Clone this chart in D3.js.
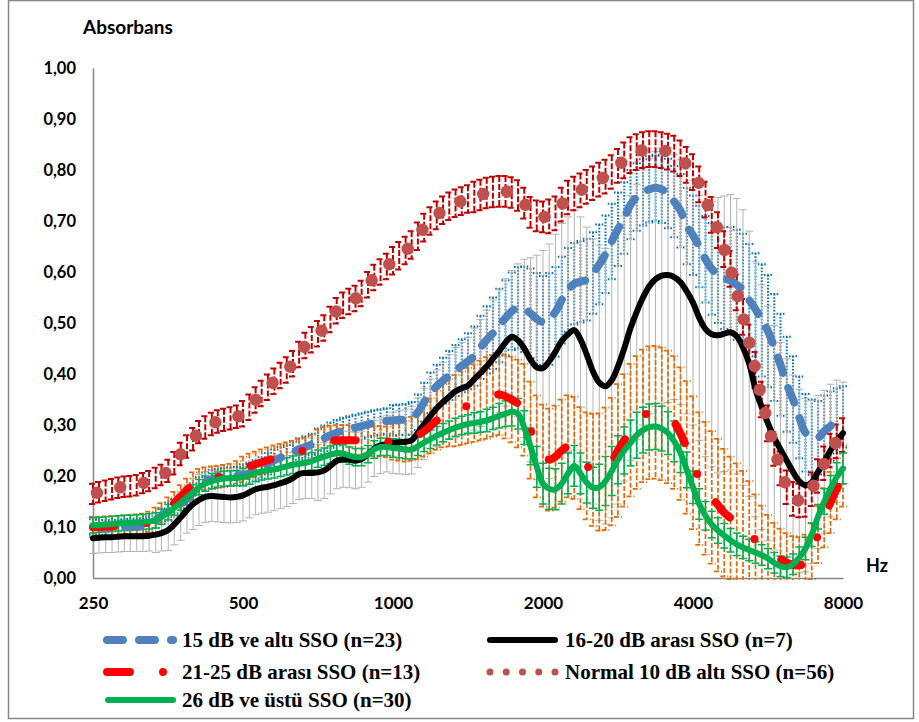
<!DOCTYPE html>
<html>
<head>
<meta charset="utf-8">
<script src="https://cdn.jsdelivr.net/npm/d3@7"></script>
<style>
  body { margin: 0; background: #fff; }
  svg { display: block; }
</style>
</head>
<body>
<svg id="chart" width="919" height="722"></svg>
<script>
// 1/24-octave analysis frequencies (Hz), 250 .. 8000
const freqs = [
  250,257,265,273,281,289,297,306,315,324,334,343,354,364,375,386,397,408,420,433,445,458,472,486,
  500,515,530,545,561,578,595,612,630,648,667,687,707,728,749,771,794,817,841,865,891,917,944,972,
  1000,1029,1060,1090,1122,1155,1189,1224,1260,1297,1335,1374,1414,1456,1498,1542,1587,1634,1682,1731,1782,1834,1888,1943,
  2000,2058,2119,2181,2245,2311,2378,2448,2520,2594,2670,2748,2828,2911,2997,3084,3175,3268,3364,3462,3564,3668,3776,3886,
  4000,4117,4238,4362,4490,4621,4757,4896,5040,5187,5339,5496,5657,5823,5993,6169,6350,6536,6727,6924,7127,7336,7551,7772,8000
];

// 15 dB ve altı SSO (n=23)
const blueMean = [
  0.100,0.099,0.098,0.098,0.099,0.100,0.101,0.101,0.102,0.106,0.113,0.122,0.130,0.137,0.145,0.155,0.168,0.180,0.189,0.194,0.196,0.198,0.199,0.200,
  0.202,0.205,0.210,0.216,0.224,0.231,0.236,0.240,0.246,0.253,0.257,0.262,0.268,0.274,0.280,0.285,0.289,0.292,0.295,0.298,0.301,0.304,0.306,0.308,
  0.309,0.310,0.311,0.313,0.325,0.345,0.363,0.376,0.387,0.397,0.407,0.416,0.425,0.435,0.452,0.467,0.480,0.495,0.510,0.523,0.530,0.527,0.519,0.508,
  0.502,0.508,0.522,0.545,0.565,0.577,0.581,0.585,0.598,0.615,0.635,0.660,0.684,0.706,0.732,0.747,0.756,0.762,0.765,0.762,0.754,0.738,0.720,0.690,
  0.672,0.650,0.625,0.606,0.595,0.588,0.583,0.575,0.565,0.545,0.527,0.505,0.484,0.452,0.418,0.380,0.350,0.315,0.285,0.276,0.275,0.288,0.298,0.308,0.316
];
const blueSd = [
  0.015,0.015,0.015,0.015,0.015,0.015,0.015,0.015,0.015,0.015,0.015,0.015,0.018,0.018,0.018,0.018,0.018,0.018,0.018,0.018,0.018,0.018,0.018,0.018,
  0.021,0.021,0.021,0.021,0.021,0.021,0.021,0.021,0.021,0.021,0.021,0.021,0.025,0.025,0.025,0.025,0.025,0.025,0.025,0.025,0.025,0.025,0.025,0.025,
  0.030,0.030,0.030,0.032,0.035,0.038,0.040,0.042,0.045,0.048,0.050,0.052,0.055,0.058,0.062,0.066,0.070,0.072,0.074,0.076,0.080,0.084,0.088,0.090,
  0.090,0.090,0.088,0.085,0.082,0.080,0.080,0.080,0.080,0.078,0.076,0.074,0.072,0.070,0.068,0.066,0.065,0.065,0.065,0.066,0.068,0.070,0.072,0.075,
  0.078,0.080,0.085,0.090,0.095,0.100,0.105,0.108,0.110,0.110,0.110,0.110,0.110,0.105,0.100,0.093,0.085,0.080,0.076,0.074,0.072,0.070,0.068,0.064,0.060
];

// 16-20 dB arası SSO (n=7)
const blackMean = [
  0.078,0.079,0.080,0.080,0.081,0.082,0.082,0.082,0.082,0.083,0.085,0.088,0.094,0.105,0.119,0.133,0.145,0.153,0.159,0.161,0.160,0.159,0.158,0.159,
  0.162,0.168,0.174,0.177,0.179,0.182,0.186,0.190,0.196,0.204,0.206,0.206,0.207,0.211,0.220,0.230,0.233,0.232,0.230,0.233,0.243,0.254,0.260,0.263,
  0.265,0.266,0.267,0.270,0.285,0.302,0.318,0.333,0.345,0.356,0.366,0.372,0.377,0.390,0.402,0.415,0.430,0.445,0.462,0.473,0.466,0.450,0.428,0.413,
  0.412,0.425,0.444,0.465,0.478,0.486,0.468,0.438,0.405,0.383,0.376,0.388,0.415,0.450,0.490,0.522,0.550,0.572,0.586,0.593,0.594,0.590,0.580,0.562,
  0.540,0.510,0.488,0.478,0.476,0.479,0.482,0.474,0.452,0.420,0.370,0.335,0.303,0.275,0.252,0.230,0.208,0.190,0.182,0.188,0.208,0.228,0.250,0.268,0.284
];
const blackSd = [
  0.030,0.030,0.030,0.030,0.030,0.030,0.030,0.030,0.030,0.030,0.035,0.035,0.040,0.040,0.045,0.045,0.050,0.050,0.050,0.050,0.050,0.050,0.050,0.050,
  0.050,0.050,0.050,0.050,0.050,0.050,0.050,0.050,0.050,0.050,0.050,0.050,0.055,0.055,0.055,0.055,0.055,0.055,0.055,0.055,0.055,0.055,0.055,0.055,
  0.060,0.062,0.064,0.066,0.068,0.070,0.072,0.075,0.078,0.082,0.086,0.090,0.095,0.100,0.105,0.110,0.115,0.120,0.125,0.130,0.150,0.175,0.200,0.220,
  0.230,0.230,0.230,0.230,0.230,0.235,0.240,0.250,0.260,0.270,0.270,0.270,0.270,0.260,0.260,0.250,0.250,0.250,0.250,0.250,0.250,0.240,0.240,0.240,
  0.240,0.240,0.250,0.260,0.270,0.270,0.270,0.270,0.270,0.260,0.250,0.240,0.230,0.220,0.210,0.200,0.190,0.180,0.170,0.160,0.150,0.140,0.130,0.120,0.100
];

// 21-25 dB arası SSO (n=13)
const redMean = [
  0.100,0.100,0.101,0.101,0.102,0.103,0.104,0.105,0.106,0.110,0.118,0.127,0.136,0.147,0.160,0.173,0.185,0.192,0.195,0.197,0.198,0.200,0.202,0.207,
  0.213,0.219,0.223,0.227,0.231,0.235,0.238,0.241,0.244,0.248,0.250,0.255,0.261,0.266,0.269,0.270,0.270,0.270,0.270,0.270,0.270,0.269,0.268,0.267,
  0.267,0.267,0.268,0.273,0.280,0.288,0.298,0.309,0.318,0.324,0.328,0.333,0.338,0.343,0.348,0.353,0.357,0.360,0.356,0.350,0.342,0.330,0.290,0.258,
  0.240,0.232,0.238,0.250,0.258,0.255,0.235,0.220,0.212,0.208,0.214,0.228,0.250,0.270,0.290,0.305,0.318,0.324,0.325,0.322,0.316,0.305,0.283,0.256,
  0.226,0.195,0.176,0.158,0.143,0.128,0.118,0.110,0.100,0.090,0.074,0.062,0.052,0.043,0.037,0.030,0.026,0.025,0.030,0.052,0.085,0.118,0.148,0.175,0.200
];
const redSd = [
  0.020,0.020,0.020,0.020,0.020,0.020,0.020,0.020,0.020,0.020,0.020,0.020,0.022,0.022,0.022,0.022,0.022,0.022,0.022,0.022,0.022,0.022,0.022,0.022,
  0.025,0.025,0.025,0.025,0.025,0.025,0.025,0.025,0.025,0.025,0.025,0.025,0.030,0.030,0.030,0.030,0.030,0.030,0.030,0.030,0.030,0.030,0.030,0.030,
  0.035,0.037,0.040,0.043,0.047,0.050,0.054,0.058,0.062,0.066,0.070,0.072,0.074,0.076,0.078,0.080,0.080,0.080,0.082,0.084,0.086,0.090,0.095,0.100,
  0.100,0.100,0.100,0.100,0.100,0.100,0.100,0.105,0.110,0.115,0.120,0.125,0.130,0.130,0.130,0.130,0.130,0.130,0.130,0.130,0.130,0.130,0.130,0.130,
  0.130,0.130,0.130,0.130,0.130,0.125,0.120,0.115,0.110,0.100,0.090,0.080,0.072,0.065,0.060,0.058,0.056,0.055,0.055,0.055,0.056,0.058,0.060,0.060,0.060
];

// Normal 10 dB altı SSO (n=56)
const normalMean = [
  0.165,0.168,0.171,0.174,0.177,0.179,0.180,0.182,0.186,0.190,0.196,0.202,0.210,0.225,0.243,0.258,0.272,0.286,0.295,0.302,0.307,0.310,0.313,0.316,
  0.322,0.335,0.349,0.362,0.374,0.386,0.397,0.408,0.420,0.438,0.456,0.467,0.479,0.490,0.507,0.524,0.535,0.542,0.548,0.558,0.575,0.589,0.600,0.611,
  0.622,0.632,0.642,0.653,0.670,0.687,0.700,0.711,0.721,0.729,0.735,0.739,0.743,0.747,0.751,0.755,0.757,0.758,0.758,0.756,0.750,0.735,0.717,0.710,
  0.708,0.709,0.715,0.732,0.746,0.754,0.760,0.767,0.774,0.781,0.787,0.796,0.808,0.819,0.829,0.835,0.839,0.841,0.841,0.839,0.836,0.832,0.823,0.810,
  0.796,0.772,0.742,0.712,0.682,0.645,0.606,0.560,0.512,0.462,0.408,0.350,0.303,0.253,0.215,0.178,0.155,0.152,0.153,0.174,0.200,0.225,0.250,0.268,0.280
];
const normalSd = [
  0.020,0.020,0.020,0.020,0.020,0.020,0.020,0.020,0.020,0.020,0.020,0.020,0.022,0.022,0.022,0.022,0.022,0.022,0.022,0.022,0.022,0.022,0.022,0.022,
  0.025,0.025,0.025,0.025,0.025,0.025,0.025,0.025,0.025,0.025,0.025,0.025,0.025,0.025,0.025,0.025,0.025,0.025,0.025,0.025,0.025,0.025,0.025,0.025,
  0.027,0.027,0.027,0.027,0.027,0.027,0.027,0.027,0.027,0.027,0.027,0.027,0.027,0.030,0.030,0.030,0.030,0.030,0.030,0.030,0.030,0.030,0.030,0.030,
  0.030,0.033,0.033,0.033,0.033,0.033,0.033,0.033,0.033,0.033,0.033,0.033,0.033,0.035,0.035,0.035,0.035,0.035,0.035,0.035,0.035,0.035,0.035,0.035,
  0.035,0.035,0.035,0.035,0.035,0.035,0.035,0.035,0.035,0.035,0.035,0.035,0.035,0.033,0.033,0.033,0.033,0.033,0.033,0.033,0.033,0.033,0.033,0.033,0.033
];

// 26 dB ve üstü SSO (n=30)
const greenMean = [
  0.103,0.104,0.105,0.106,0.107,0.108,0.108,0.109,0.110,0.111,0.113,0.120,0.129,0.138,0.148,0.158,0.168,0.178,0.185,0.190,0.193,0.195,0.196,0.196,
  0.198,0.201,0.206,0.209,0.211,0.213,0.216,0.219,0.222,0.224,0.226,0.229,0.234,0.238,0.242,0.245,0.244,0.240,0.237,0.237,0.243,0.252,0.257,0.257,
  0.255,0.254,0.252,0.252,0.258,0.266,0.272,0.279,0.285,0.290,0.295,0.299,0.302,0.304,0.306,0.309,0.313,0.318,0.322,0.326,0.322,0.295,0.258,0.218,
  0.185,0.175,0.174,0.185,0.205,0.220,0.205,0.187,0.177,0.178,0.190,0.210,0.232,0.250,0.265,0.280,0.290,0.296,0.297,0.293,0.284,0.268,0.245,0.212,
  0.178,0.145,0.122,0.105,0.093,0.083,0.074,0.066,0.060,0.055,0.050,0.045,0.038,0.030,0.023,0.021,0.027,0.040,0.058,0.085,0.120,0.150,0.175,0.198,0.215
];
const greenSd = [
  0.015,0.015,0.015,0.015,0.015,0.015,0.015,0.015,0.015,0.015,0.015,0.015,0.015,0.015,0.015,0.015,0.015,0.015,0.015,0.015,0.015,0.015,0.015,0.015,
  0.017,0.017,0.017,0.017,0.017,0.017,0.017,0.017,0.017,0.017,0.017,0.017,0.017,0.017,0.017,0.017,0.017,0.017,0.017,0.017,0.017,0.017,0.017,0.017,
  0.018,0.018,0.018,0.018,0.018,0.018,0.018,0.018,0.018,0.018,0.018,0.018,0.018,0.020,0.020,0.022,0.022,0.024,0.025,0.028,0.030,0.033,0.036,0.040,
  0.040,0.040,0.040,0.040,0.040,0.040,0.040,0.040,0.040,0.045,0.048,0.048,0.047,0.046,0.045,0.045,0.045,0.045,0.045,0.044,0.042,0.040,0.038,0.035,
  0.032,0.030,0.028,0.026,0.025,0.024,0.023,0.022,0.022,0.021,0.021,0.020,0.020,0.020,0.020,0.020,0.020,0.021,0.022,0.023,0.024,0.025,0.026,0.028,0.030
];

const xTicks = [250, 500, 1000, 2000, 4000, 8000];
const yTicks = [0, 0.1, 0.2, 0.3, 0.4, 0.5, 0.6, 0.7, 0.8, 0.9, 1.0];

const series = [
  { label: "15 dB ve altı SSO (n=23)", mean: blueMean, sd: blueSd,
    stroke: "#4F81BD", width: 8, dash: "16 16", offset: 0,
    bar: { stroke: "#0070C0", width: 2, dash: "1.6 1.6" },
    legend: { x1: 107, x2: 173, y: 640, tx: 182, width: 8, dash: "16 16" } },
  { label: "16-20 dB arası SSO (n=7)", mean: blackMean, sd: blackSd,
    stroke: "#000000", width: 6, dash: null, offset: 0,
    bar: { stroke: "#B3B3B3", width: 1, dash: null },
    legend: { x1: 490, x2: 555, y: 640, tx: 565, width: 6, dash: null } },
  { label: "21-25 dB arası SSO (n=13)", mean: redMean, sd: redSd,
    stroke: "#FF0000", width: 8, dash: "21 33 0 34", offset: 0,
    bar: { stroke: "#E46C0A", width: 1.75, dash: "5 2" },
    legend: { x1: 107, x2: 164, y: 672, tx: 182, width: 8, dash: "23 33 0 40" } },
  { label: "Normal 10 dB altı SSO (n=56)", mean: normalMean, sd: normalSd,
    stroke: "#C0504D", width: 12.5, dash: "0 24", offset: 20,
    bar: { stroke: "#C00000", width: 2, dash: "6 2" },
    legend: { x1: 490, x2: 556, y: 672, tx: 565, width: 7, dash: "0 16.25" } },
  { label: "26 dB ve üstü SSO (n=30)", mean: greenMean, sd: greenSd,
    stroke: "#00B050", width: 6, dash: null, offset: 0,
    bar: { stroke: "#00B050", width: 1.5, dash: null },
    legend: { x1: 108, x2: 173, y: 700, tx: 182, width: 6, dash: null } }
];

const svg = d3.select("#chart");
const x = d3.scaleLog().domain([250, 8000]).range([93, 843]);
const y = d3.scaleLinear().domain([0, 1]).range([578, 68]);

// outer chart frame
svg.append("rect")
  .attr("x", 8.5).attr("y", 0.5).attr("width", 905).attr("height", 718)
  .attr("fill", "#fff").attr("stroke", "#868686").attr("stroke-width", 1.5);

svg.append("defs").append("clipPath").attr("id", "plotClip")
  .append("rect").attr("x", 80).attr("y", 55).attr("width", 790).attr("height", 525);

const tickFont = "Lato, 'Open Sans', sans-serif";

// y axis
const yAxis = svg.append("g")
  .attr("transform", "translate(93,0)")
  .call(d3.axisLeft(y).tickValues(yTicks).tickSize(0).tickPadding(17)
    .tickFormat(d => d3.format(".2f")(d).replace(".", ",")));
yAxis.select(".domain").attr("stroke", "#868686").attr("stroke-width", 1.5);
yAxis.selectAll("text").attr("font-family", tickFont).attr("font-weight", 700)
  .attr("font-size", 16.5).attr("fill", "#000");

// x axis
const xAxis = svg.append("g")
  .attr("transform", "translate(0,578)")
  .call(d3.axisBottom(x).tickValues(xTicks).tickSize(0).tickPadding(19)
    .tickFormat(d3.format("d")));
xAxis.select(".domain").attr("stroke", "#868686").attr("stroke-width", 1.5);
xAxis.selectAll("text").attr("font-family", tickFont).attr("font-weight", 700)
  .attr("font-size", 17).attr("fill", "#000");

// axis titles
svg.append("text").attr("x", 83).attr("y", 34)
  .attr("font-family", tickFont).attr("font-weight", 700).attr("font-size", 19)
  .text("Absorbans");
svg.append("text").attr("x", 866).attr("y", 572)
  .attr("font-family", tickFont).attr("font-weight", 700).attr("font-size", 18)
  .text("Hz");

const plot = svg.append("g").attr("clip-path", "url(#plotClip)");

// error bars (±SD with caps) under all lines
series.forEach(s => {
  plot.append("g")
    .selectAll("path")
    .data(freqs.map((f, i) => ({ f, m: s.mean[i], d: s.sd[i] })))
    .join("path")
    .attr("d", p => {
      const px = x(p.f), y1 = y(p.m + p.d), y2 = y(p.m - p.d);
      return `M${px},${y1}V${y2}M${px - 4},${y1}h8M${px - 4},${y2}h8`;
    })
    .attr("fill", "none")
    .attr("stroke", s.bar.stroke)
    .attr("stroke-width", s.bar.width)
    .attr("stroke-dasharray", s.bar.dash);
});

// smoothed mean curves
const line = d3.line()
  .x((d, i) => x(freqs[i]))
  .y(d => y(d))
  .curve(d3.curveCatmullRom.alpha(0.5));

series.forEach(s => {
  plot.append("path")
    .datum(s.mean)
    .attr("d", line)
    .attr("fill", "none")
    .attr("stroke", s.stroke)
    .attr("stroke-width", s.width)
    .attr("stroke-linecap", "round")
    .attr("stroke-linejoin", "round")
    .attr("stroke-dasharray", s.dash)
    .attr("stroke-dashoffset", s.offset);
});

// legend
const legend = svg.append("g");
series.forEach(s => {
  const L = s.legend;
  legend.append("line")
    .attr("x1", L.x1).attr("x2", L.x2).attr("y1", L.y).attr("y2", L.y)
    .attr("stroke", s.stroke).attr("stroke-width", L.width)
    .attr("stroke-linecap", "round")
    .attr("stroke-dasharray", L.dash);
  legend.append("text")
    .attr("x", L.tx).attr("y", L.y).attr("dy", "0.33em")
    .attr("font-family", "'Liberation Serif', 'Times New Roman', serif")
    .attr("font-weight", 700).attr("font-size", 21).attr("fill", "#000")
    .text(s.label);
});
</script>
</body>
</html>
